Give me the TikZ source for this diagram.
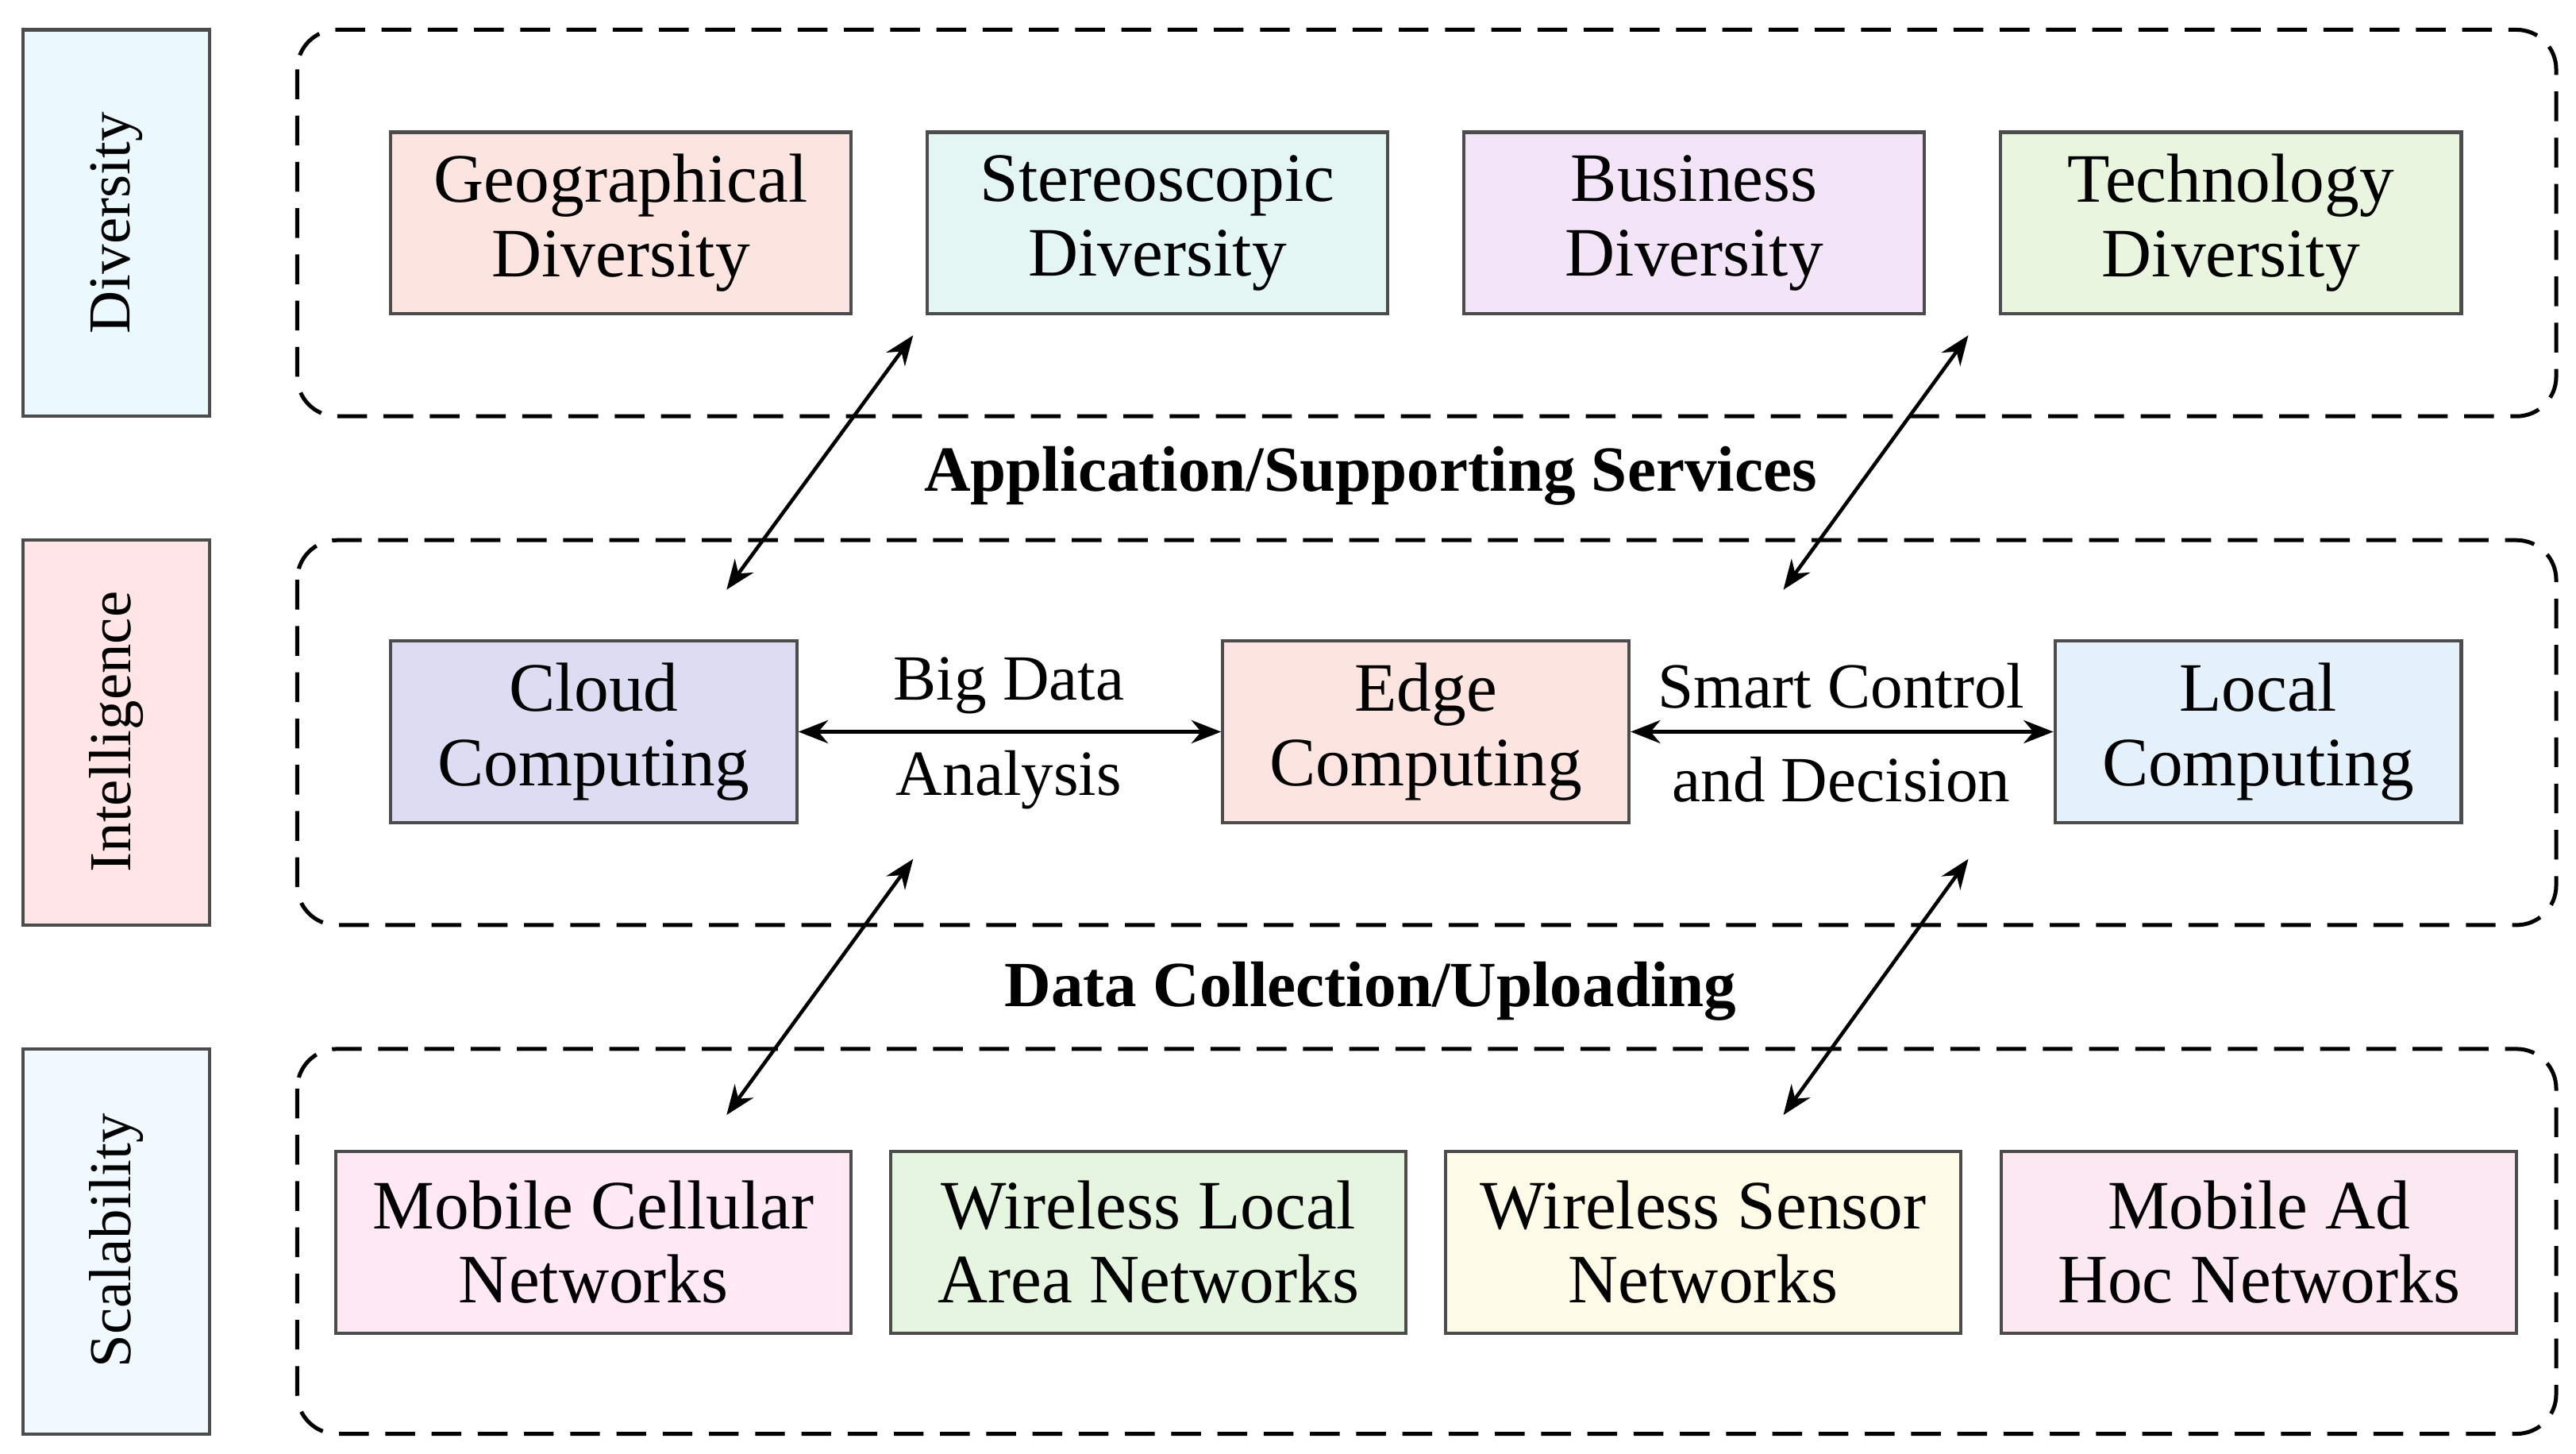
\documentclass[tikz,border=0pt]{standalone}
\usepackage{fontspec}
\setmainfont{Liberation Serif}
\usetikzlibrary{arrows.meta}
\begin{document}
\begin{tikzpicture}[x=0.5pt,y=-0.5pt,
  side/.style={draw=black!70,line width=1pt},
  cont/.style={draw=black,dashed,dash pattern=on 9pt off 5pt,line width=1.2pt,rounded corners=12pt},
  box/.style={draw=black!70,line width=1pt,align=center,inner sep=0pt,font=\fontsize{21}{22.5}\selectfont},
  lab/.style={font=\fontsize{19.5}{22}\selectfont},
  blab/.style={font=\fontsize{19.5}{22}\selectfont\bfseries},
  arr/.style={{Stealth[length=9pt,width=7pt]}-{Stealth[length=9pt,width=7pt]},line width=1.1pt}]
\useasboundingbox (0,0) rectangle (1560,880);
% side labels
\filldraw[side,fill=cyan!8] (14,18) rectangle (127,252);
\node[rotate=90,font=\fontsize{18}{22}\selectfont] (sd) at (70.5,135) {Diversity};
\filldraw[side,fill=red!10] (14,327) rectangle (127,560);
\node[rotate=90,font=\fontsize{18}{22}\selectfont] (si) at (70.5,443) {Intelligence};
\filldraw[side,fill=cyan!6] (14,635) rectangle (127,868);
\node[rotate=90,font=\fontsize{18}{22}\selectfont] (ss) at (70.5,751) {Scalability};
% containers
\draw[cont] (180,18) rectangle (1548,252);
\draw[cont] (180,327) rectangle (1548,560);
\draw[cont] (180,635) rectangle (1548,868);
% top
\node[box,fill={rgb,255:red,252;green,228;blue,224},minimum width=139.5pt,minimum height=55pt] (g) at (376,135) {Geographical\\Diversity};
\node[box,fill={rgb,255:red,228;green,246;blue,244},minimum width=139.5pt,minimum height=55pt] (st) at (701,135) {Stereoscopic\\Diversity};
\node[box,fill={rgb,255:red,243;green,228;blue,248},minimum width=139.5pt,minimum height=55pt] (b) at (1026,135) {Business\\Diversity};
\node[box,fill={rgb,255:red,234;green,245;blue,224},minimum width=139.5pt,minimum height=55pt] (t) at (1351,135) {Technology\\Diversity};
% middle
\node[box,fill={rgb,255:red,220;green,220;blue,243},minimum width=123pt,minimum height=55pt] (cc) at (359.5,443) {Cloud\\Computing};
\node[box,fill={rgb,255:red,252;green,228;blue,224},minimum width=123pt,minimum height=55pt] (ec) at (863.5,443) {Edge\\Computing};
\node[box,fill={rgb,255:red,228;green,240;blue,250},minimum width=123pt,minimum height=55pt] (lc) at (1367.5,443) {Local\\Computing};
% bottom
\node[box,fill={rgb,255:red,253;green,232;blue,244},minimum width=156pt,minimum height=55pt] (m1) at (359.5,752) {Mobile Cellular\\Networks};
\node[box,fill={rgb,255:red,230;green,245;blue,224},minimum width=156pt,minimum height=55pt] (m2) at (695.5,752) {Wireless Local\\Area Networks};
\node[box,fill={rgb,255:red,253;green,250;blue,232},minimum width=156pt,minimum height=55pt] (m3) at (1031.5,752) {Wireless Sensor\\Networks};
\node[box,fill={rgb,255:red,252;green,232;blue,240},minimum width=156pt,minimum height=55pt] (m4) at (1368,752) {Mobile Ad\\Hoc Networks};
% labels
\node[lab] (bd1) at (611,415) {Big Data};
\node[lab] (bd2) at (611,472) {Analysis};
\node[lab] (sc1) at (1115,415) {Smart Control};
\node[lab] (sc2) at (1115,472) {and Decision};
\node[blab] (as) at (830,288) {Application/Supporting Services};
\node[blab] (dc) at (830,600) {Data Collection/Uploading};
% arrows
\coordinate (a1) at (440,357); \coordinate (a2) at (553,203);
\coordinate (b1) at (1080,357); \coordinate (b2) at (1192,203);
\coordinate (c1) at (440,675); \coordinate (c2) at (553,520);
\coordinate (d1) at (1080,675); \coordinate (d2) at (1192,520);
\draw[arr] (a1) -- (a2);
\draw[arr] (b1) -- (b2);
\draw[arr] (c1) -- (c2);
\draw[arr] (d1) -- (d2);
\draw[arr] (cc.east) -- (ec.west);
\draw[arr] (ec.east) -- (lc.west);
\end{tikzpicture}
\end{document}
